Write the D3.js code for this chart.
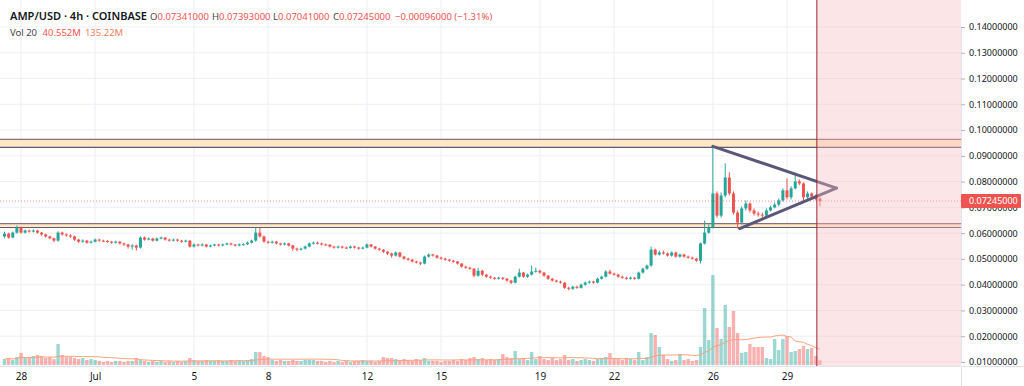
<!DOCTYPE html>
<html>
<head>
<meta charset="utf-8">
<script src="https://cdn.jsdelivr.net/npm/d3@7"></script>
<style>
  html, body { margin: 0; padding: 0; background: #fff; }
  svg { display: block; font-family: "Noto Sans", sans-serif; }
</style>
</head>
<body>
<svg id="chart" width="1024" height="386"></svg>
<script>
// AMP/USD 4h candles, first one is Jun 27 08:00 UTC, open = previous close
const firstCandle = Date.UTC(2021, 5, 27, 8)
const firstOpen = 0.0587

const closes = [
  0.0598, 0.0583, 0.0602, 0.0622,
  0.0602, 0.0610, 0.0606, 0.0610, 0.0602, 0.0595,
  0.0587, 0.0580, 0.0571, 0.0602, 0.0595, 0.0591,
  0.0587, 0.0575, 0.0567, 0.0571, 0.0563, 0.0567,
  0.0575, 0.0571, 0.0570, 0.0567, 0.0563, 0.0567,
  0.0560, 0.0556, 0.0548, 0.0552, 0.0544, 0.0583,
  0.0575, 0.0579, 0.0571, 0.0579, 0.0583, 0.0575,
  0.0571, 0.0575, 0.0571, 0.0567, 0.0571, 0.0548,
  0.0556, 0.0552, 0.0556, 0.0548, 0.0552, 0.0556,
  0.0552, 0.0556, 0.0560, 0.0556, 0.0552, 0.0556,
  0.0557, 0.0563, 0.0571, 0.0602, 0.0587, 0.0567,
  0.0563, 0.0567, 0.0560, 0.0556, 0.0560, 0.0552,
  0.0540, 0.0536, 0.0540, 0.0548, 0.0560, 0.0563,
  0.0560, 0.0556, 0.0555, 0.0548, 0.0544, 0.0548,
  0.0544, 0.0543, 0.0548, 0.0544, 0.0540, 0.0544,
  0.0556, 0.0548, 0.0540, 0.0536, 0.0528, 0.0521,
  0.0513, 0.0525, 0.0509, 0.0501, 0.0497, 0.0490,
  0.0486, 0.0482, 0.0509, 0.0517, 0.0513, 0.0505,
  0.0501, 0.0497, 0.0493, 0.0490, 0.0482, 0.0470,
  0.0466, 0.0462, 0.0435, 0.0454, 0.0439, 0.0431,
  0.0427, 0.0423, 0.0427, 0.0423, 0.0416, 0.0408,
  0.0431, 0.0447, 0.0431, 0.0439, 0.0451, 0.0454,
  0.0447, 0.0435, 0.0423, 0.0416, 0.0412, 0.0408,
  0.0388, 0.0384, 0.0392, 0.0388, 0.0400, 0.0408,
  0.0412, 0.0408, 0.0423, 0.0431, 0.0451, 0.0443,
  0.0439, 0.0431, 0.0427, 0.0423, 0.0427, 0.0423,
  0.0447, 0.0462, 0.0474, 0.0536, 0.0517, 0.0525,
  0.0521, 0.0513, 0.0525, 0.0509, 0.0517, 0.0509,
  0.0505, 0.0501, 0.0493, 0.0560, 0.0602, 0.0622,
  0.0754, 0.0668, 0.0746, 0.0816, 0.0754, 0.0680,
  0.0641, 0.0696, 0.0715, 0.0688, 0.0676, 0.0672,
  0.0668, 0.0688, 0.0700, 0.0711, 0.0727, 0.0766,
  0.0739, 0.0774, 0.0801, 0.0793, 0.0739, 0.0754,
  0.0742, 0.07341, 0.07245
]

const highs = [
  0.0606, 0.0602, 0.0606, 0.0630,
  0.0626, 0.0614, 0.0614, 0.0615, 0.0613, 0.0605,
  0.0598, 0.0590, 0.0583, 0.0607, 0.0606, 0.0599,
  0.0596, 0.0590, 0.0578, 0.0576, 0.0574, 0.0571,
  0.0579, 0.0578, 0.0575, 0.0573, 0.0570, 0.0571,
  0.0569, 0.0563, 0.0559, 0.0557, 0.0555, 0.0587,
  0.0587, 0.0583, 0.0582, 0.0583, 0.0587, 0.0585,
  0.0578, 0.0579, 0.0578, 0.0574, 0.0575, 0.0573,
  0.0560, 0.0559, 0.0560, 0.0558, 0.0556, 0.0559,
  0.0559, 0.0560, 0.0563, 0.0563, 0.0558, 0.0560,
  0.0561, 0.0567, 0.0575, 0.0622, 0.0622, 0.0591,
  0.0571, 0.0571, 0.0570, 0.0563, 0.0564, 0.0562,
  0.0555, 0.0544, 0.0544, 0.0552, 0.0564, 0.0568,
  0.0567, 0.0563, 0.0560, 0.0558, 0.0551, 0.0552,
  0.0551, 0.0548, 0.0552, 0.0551, 0.0547, 0.0548,
  0.0560, 0.0558, 0.0550, 0.0543, 0.0538, 0.0530,
  0.0524, 0.0529, 0.0527, 0.0512, 0.0505, 0.0500,
  0.0493, 0.0489, 0.0513, 0.0521, 0.0520, 0.0516,
  0.0509, 0.0505, 0.0500, 0.0496, 0.0492, 0.0484,
  0.0474, 0.0470, 0.0464, 0.0466, 0.0458, 0.0442,
  0.0435, 0.0430, 0.0431, 0.0430, 0.0426, 0.0418,
  0.0435, 0.0462, 0.0450, 0.0443, 0.0474, 0.0466,
  0.0458, 0.0450, 0.0437, 0.0426, 0.0420, 0.0416,
  0.0410, 0.0392, 0.0396, 0.0396, 0.0404, 0.0412,
  0.0416, 0.0415, 0.0427, 0.0435, 0.0456, 0.0458,
  0.0447, 0.0442, 0.0435, 0.0431, 0.0431, 0.0430,
  0.0451, 0.0466, 0.0478, 0.0548, 0.0540, 0.0532,
  0.0532, 0.0525, 0.0529, 0.0528, 0.0521, 0.0520,
  0.0513, 0.0509, 0.0504, 0.0564, 0.0649, 0.0634,
  0.0937, 0.0762, 0.0758, 0.0871, 0.0836, 0.0762,
  0.0688, 0.0704, 0.0727, 0.0719, 0.0696, 0.0684,
  0.0680, 0.0696, 0.0707, 0.0719, 0.0735, 0.0774,
  0.0812, 0.0782, 0.0832, 0.0809, 0.0797, 0.0762,
  0.0758, 0.0750, 0.07393
]

const lows = [
  0.0580, 0.0578, 0.0580, 0.0598,
  0.0598, 0.0599, 0.0602, 0.0603, 0.0598, 0.0590,
  0.0583, 0.0576, 0.0565, 0.0567, 0.0590, 0.0586,
  0.0582, 0.0570, 0.0562, 0.0563, 0.0559, 0.0560,
  0.0564, 0.0567, 0.0566, 0.0563, 0.0559, 0.0560,
  0.0556, 0.0550, 0.0540, 0.0536, 0.0532, 0.0540,
  0.0571, 0.0572, 0.0567, 0.0568, 0.0576, 0.0571,
  0.0567, 0.0568, 0.0567, 0.0563, 0.0564, 0.0544,
  0.0544, 0.0548, 0.0549, 0.0544, 0.0545, 0.0549,
  0.0548, 0.0549, 0.0553, 0.0552, 0.0548, 0.0549,
  0.0552, 0.0554, 0.0560, 0.0567, 0.0583, 0.0563,
  0.0559, 0.0560, 0.0556, 0.0552, 0.0553, 0.0548,
  0.0532, 0.0530, 0.0533, 0.0537, 0.0545, 0.0556,
  0.0556, 0.0552, 0.0551, 0.0544, 0.0540, 0.0541,
  0.0540, 0.0539, 0.0540, 0.0540, 0.0536, 0.0537,
  0.0541, 0.0544, 0.0536, 0.0532, 0.0523, 0.0515,
  0.0505, 0.0509, 0.0505, 0.0497, 0.0493, 0.0486,
  0.0482, 0.0476, 0.0479, 0.0505, 0.0509, 0.0501,
  0.0497, 0.0493, 0.0489, 0.0486, 0.0478, 0.0466,
  0.0462, 0.0458, 0.0429, 0.0431, 0.0433, 0.0427,
  0.0423, 0.0419, 0.0420, 0.0418, 0.0412, 0.0402,
  0.0405, 0.0428, 0.0427, 0.0427, 0.0436, 0.0447,
  0.0443, 0.0431, 0.0419, 0.0412, 0.0408, 0.0404,
  0.0384, 0.0378, 0.0380, 0.0384, 0.0385, 0.0396,
  0.0404, 0.0404, 0.0405, 0.0420, 0.0428, 0.0439,
  0.0435, 0.0427, 0.0423, 0.0419, 0.0420, 0.0419,
  0.0420, 0.0443, 0.0458, 0.0470, 0.0513, 0.0513,
  0.0517, 0.0509, 0.0509, 0.0505, 0.0505, 0.0505,
  0.0501, 0.0497, 0.0489, 0.0482, 0.0556, 0.0598,
  0.0618, 0.0660, 0.0660, 0.0739, 0.0746, 0.0672,
  0.0618, 0.0634, 0.0688, 0.0680, 0.0668, 0.0664,
  0.0660, 0.0664, 0.0684, 0.0696, 0.0704, 0.0723,
  0.0731, 0.0731, 0.0770, 0.0786, 0.0723, 0.0727,
  0.0731, 0.0727, 0.07041
]

// volume in millions
const volumes = [
  50, 59, 42, 67,
  101, 59, 59, 76, 84, 76,
  59, 67, 50, 176, 84, 67,
  67, 59, 50, 59, 42, 50,
  42, 34, 25, 34, 25, 34,
  34, 25, 34, 34, 59, 42,
  34, 25, 34, 25, 34, 25,
  34, 25, 34, 25, 34, 59,
  42, 34, 34, 42, 34, 34,
  42, 34, 34, 42, 34, 42,
  34, 42, 50, 109, 109, 76,
  67, 42, 34, 42, 34, 34,
  42, 34, 34, 42, 42, 42,
  34, 34, 25, 34, 25, 34,
  25, 34, 25, 34, 34, 42,
  34, 34, 25, 34, 67, 59,
  59, 50, 42, 50, 42, 34,
  50, 42, 59, 34, 34, 34,
  25, 34, 34, 42, 34, 50,
  42, 59, 67, 50, 59, 42,
  50, 42, 50, 92, 67, 59,
  118, 50, 59, 42, 109, 50,
  76, 50, 42, 59, 42, 50,
  84, 42, 50, 34, 42, 50,
  42, 34, 50, 59, 67, 101,
  59, 50, 42, 59, 50, 42,
  109, 42, 67, 269, 252, 151,
  84, 50, 34, 42, 92, 42,
  50, 34, 42, 151, 479, 210,
  756, 311, 218, 504, 319, 454,
  269, 101, 109, 176, 151, 151,
  151, 59, 50, 218, 126, 218,
  244, 109, 118, 134, 160, 134,
  143, 76, 40.552
]

const priceTicks = [0.01, 0.02, 0.03, 0.04, 0.05, 0.06, 0.07, 0.08, 0.09, 0.10, 0.11, 0.12, 0.13, 0.14]
const dayTicks = ["2021-06-28", "2021-07-01", "2021-07-05", "2021-07-08", "2021-07-12",
                  "2021-07-15", "2021-07-19", "2021-07-22", "2021-07-26", "2021-07-29"]
const dayLabels = ["28", "Jul", "5", "8", "12", "15", "19", "22", "26", "29"]

// drawings on the chart
const upperZone = [0.0933, 0.0964]
const lowerZone = [0.0622, 0.0637]
const triangleUpper = [["2021-07-26T00:00Z", 0.0937], ["2021-07-31T00:00Z", 0.0775]]
const triangleLower = [["2021-07-27T02:00Z", 0.0618], ["2021-07-31T00:00Z", 0.0775]]
const markerTime = "2021-07-30T05:00Z"
const lastPrice = 0.07245

const W = 1024, H = 386
const plotRight = 961, plotBottom = 366
const green = "#26a69a", red = "#ef5350"

const candles = closes.map((c, i) => ({
  t: new Date(firstCandle + i * 4 * 3600 * 1000),
  o: i === 0 ? firstOpen : closes[i - 1],
  h: highs[i], l: lows[i], c: c, v: volumes[i]
}))

const x = d3.scaleUtc()
  .domain([new Date("2021-06-28T00:00Z"), new Date("2021-07-29T00:00Z")])
  .range([21, 787])
const y = d3.scaleLinear().domain([0.01, 0.14]).range([362, 27])
const yVol = d3.scaleLinear().domain([0, d3.max(volumes)]).range([365, 275])

const svg = d3.select("#chart")
svg.append("rect").attr("width", W).attr("height", H).attr("fill", "#fff")

svg.append("defs").append("clipPath").attr("id", "plot")
  .append("rect").attr("x", 0).attr("y", 0).attr("width", plotRight).attr("height", plotBottom)

const plot = svg.append("g").attr("clip-path", "url(#plot)")

// grid
plot.selectAll(".vgrid").data(dayTicks).enter().append("line")
  .attr("x1", d => x(new Date(d + "T00:00Z"))).attr("x2", d => x(new Date(d + "T00:00Z")))
  .attr("y1", 0).attr("y2", plotBottom)
  .attr("stroke", "#eceff4").attr("stroke-width", 1)
plot.selectAll(".hgrid").data(priceTicks).enter().append("line")
  .attr("x1", 0).attr("x2", plotRight)
  .attr("y1", d => y(d)).attr("y2", d => y(d))
  .attr("stroke", "#eceff4").attr("stroke-width", 1)

// horizontal zones
const zones = [upperZone, lowerZone]
plot.selectAll(".zone").data(zones).enter().append("rect")
  .attr("x", 0).attr("width", plotRight)
  .attr("y", d => y(d[1])).attr("height", d => y(d[0]) - y(d[1]))
  .attr("fill", "#ffe8c6")
plot.selectAll(".zoneTop").data(zones).enter().append("line")
  .attr("x1", 0).attr("x2", plotRight)
  .attr("y1", d => y(d[1])).attr("y2", d => y(d[1]))
  .attr("stroke", "#8d6e72").attr("stroke-width", 1.4)
plot.selectAll(".zoneBottom").data(zones).enter().append("line")
  .attr("x1", 0).attr("x2", plotRight)
  .attr("y1", d => y(d[0])).attr("y2", d => y(d[0]))
  .attr("stroke", "#5d5a73").attr("stroke-width", 1.1)

// volume
plot.selectAll(".vol").data(candles).enter().append("rect")
  .attr("x", d => x(d.t) - 1.7).attr("width", 3.4)
  .attr("y", d => yVol(d.v)).attr("height", d => yVol(0) - yVol(d.v))
  .attr("fill", d => d.c >= d.o ? "rgba(38,166,154,0.45)" : "rgba(239,83,80,0.45)")

const volMA = candles.map((d, i) => ({
  t: d.t, v: d3.mean(volumes.slice(Math.max(0, i - 19), i + 1))
}))
plot.append("path").datum(volMA)
  .attr("d", d3.line().x(d => x(d.t)).y(d => yVol(d.v)))
  .attr("fill", "none").attr("stroke", "#f5a47c").attr("stroke-width", 1)

// candles
plot.selectAll(".wick").data(candles).enter().append("line")
  .attr("x1", d => x(d.t)).attr("x2", d => x(d.t))
  .attr("y1", d => y(d.h)).attr("y2", d => y(d.l))
  .attr("stroke", d => d.c >= d.o ? green : red).attr("stroke-width", 1)
plot.selectAll(".body").data(candles).enter().append("rect")
  .attr("x", d => x(d.t) - 1.5).attr("width", 3)
  .attr("y", d => y(Math.max(d.o, d.c)))
  .attr("height", d => Math.max(1, Math.abs(y(d.o) - y(d.c))))
  .attr("fill", d => d.c >= d.o ? green : red)

// last price dotted line
plot.append("line")
  .attr("x1", 0).attr("x2", plotRight).attr("y1", y(lastPrice)).attr("y2", y(lastPrice))
  .attr("stroke", red).attr("stroke-width", 1).attr("stroke-dasharray", "1 2").attr("opacity", 0.7)

// triangle
const triLine = d3.line().x(d => x(new Date(d[0]))).y(d => y(d[1]))
plot.selectAll(".tri").data([triangleUpper, triangleLower]).enter().append("path")
  .attr("d", triLine)
  .attr("fill", "none").attr("stroke", "#5b5777").attr("stroke-width", 3).attr("stroke-linecap", "round")

// future region
const mx = x(new Date(markerTime))
plot.append("rect").attr("x", mx).attr("y", 0).attr("width", plotRight - mx).attr("height", plotBottom)
  .attr("fill", "rgba(246,186,192,0.38)")
plot.append("line").attr("x1", mx).attr("x2", mx).attr("y1", 0).attr("y2", plotBottom)
  .attr("stroke", "#9e2430").attr("stroke-width", 1)

// axes
const fmt = d3.format(".8f")
const yAxis = svg.append("g").attr("transform", `translate(${plotRight},0)`)
  .call(d3.axisRight(y).tickValues(priceTicks).tickFormat(fmt).tickSize(4).tickPadding(4))
yAxis.select(".domain").attr("stroke", "#e0e3eb")
yAxis.selectAll(".tick line").attr("stroke", "#b2b5be")
yAxis.selectAll(".tick text").attr("fill", "#131722").attr("font-size", 9).attr("font-family", "Noto Sans")

const xAxis = svg.append("g").attr("transform", `translate(0,${plotBottom})`)
  .call(d3.axisBottom(x).tickValues(dayTicks.map(d => new Date(d + "T00:00Z")))
    .tickFormat((d, i) => dayLabels[i]).tickSize(0).tickPadding(7))
xAxis.select(".domain").attr("stroke", "#e0e3eb").attr("d", `M0,0.5H${W}`)
xAxis.selectAll(".tick text").attr("fill", "#131722").attr("font-size", 10).attr("font-family", "Noto Sans")

svg.append("line").attr("x1", plotRight + 0.5).attr("x2", plotRight + 0.5).attr("y1", plotBottom).attr("y2", H)
  .attr("stroke", "#e0e3eb")

// last price label
const lp = svg.append("g").attr("transform", `translate(${plotRight},${y(lastPrice)})`)
lp.append("rect").attr("x", 0).attr("y", -7).attr("width", 60).attr("height", 14).attr("rx", 1).attr("fill", red)
lp.append("text").attr("x", 8).attr("y", 3.3).attr("fill", "#fff").attr("font-size", 9).text(fmt(lastPrice))

// legend
const last = candles[candles.length - 1]
const prevClose = candles[candles.length - 2].c
const change = last.c - prevClose
const legend = svg.append("g")
legend.append("text").attr("x", 10).attr("y", 20).attr("font-size", 11).attr("font-weight", 600)
  .attr("fill", "#131722").text("AMP/USD · 4h · COINBASE")
const ohlc = [["O", last.o, 150], ["H", last.h, 212], ["L", last.l, 273], ["C", last.c, 333]]
ohlc.forEach(([k, v, px]) => {
  const t = legend.append("text").attr("x", px).attr("y", 20).attr("font-size", 9.5)
  t.append("tspan").attr("fill", "#434651").text(k)
  t.append("tspan").attr("fill", red).text(fmt(v))
})
legend.append("text").attr("x", 395).attr("y", 20).attr("font-size", 9.5).attr("fill", red)
  .text(`${fmt(change).replace("-", "−")} (${(change / prevClose * 100).toFixed(2).replace("-", "−")}%)`)

const volText = legend.append("text").attr("x", 10).attr("y", 36).attr("font-size", 9.5)
volText.append("tspan").attr("fill", "#434651").text("Vol 20 ")
volText.append("tspan").attr("fill", red).attr("dx", 3).text(d3.format(".3f")(last.v) + "M")
volText.append("tspan").attr("fill", "#f0825f").attr("dx", 4).text("135.22M")
</script>
</body>
</html>
